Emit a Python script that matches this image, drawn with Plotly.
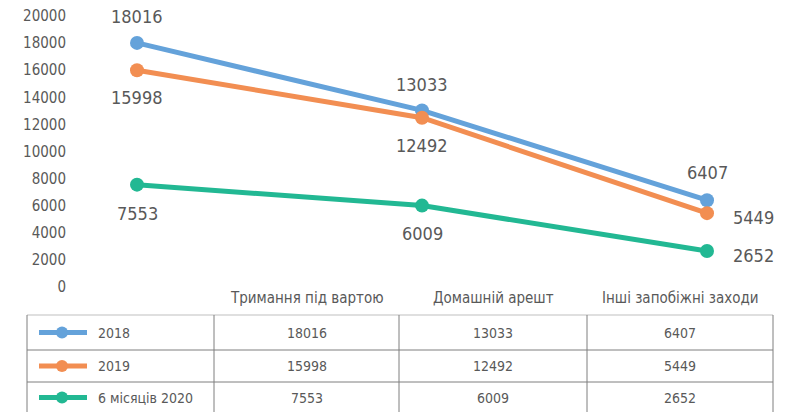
import plotly.graph_objects as go

categories = ["Тримання під вартою", "Домашній арешт", "Інші запобіжні заходи"]
series_names = ["2018", "2019", "6 місяців 2020"]
values_2018 = [18016, 13033, 6407]
values_2019 = [15998, 12492, 5449]
values_2020 = [7553, 6009, 2652]
y_ticks = [0, 2000, 4000, 6000, 8000, 10000, 12000, 14000, 16000, 18000, 20000]

series_values = [values_2018, values_2019, values_2020]
colors = ["#64a2da", "#f28e52", "#22b893"]
# label placement per point: (anchor, dx, dy) in pixels
label_place = [
    [("c", 0, 26), ("c", 0, 26), ("c", 0, 28)],
    [("c", 0, -27), ("c", 0, -28), ("l", 24, -4)],
    [("c", 0, -29), ("c", 0, -28), ("l", 24, -4)],
]

W, H = 789, 412
FONT = "DejaVu Sans Condensed, DejaVu Sans, sans-serif"
TXT = "#595959"

def px(x):
    return x / W

def py(y):
    return 1 - y / H

fig = go.Figure()
xs = list(range(len(categories)))
for name, vals, col in zip(series_names, series_values, colors):
    fig.add_trace(go.Scatter(
        x=xs, y=vals, mode="lines+markers", name=name,
        line=dict(color=col, width=5),
        marker=dict(color=col, size=14),
        cliponaxis=False, showlegend=False, hoverinfo="x+y",
    ))

annotations = []
for vals, places in zip(series_values, label_place):
    for x, v, (anc, dx, dy) in zip(xs, vals, places):
        annotations.append(dict(
            x=x, y=v, xref="x", yref="y", text=str(v), showarrow=False,
            xanchor="center" if anc == "c" else "left", yanchor="middle",
            xshift=dx, yshift=dy,
            font=dict(family=FONT, size=18, color=TXT)))

# x axis mapping: category 0 -> 137px, 2 -> 707px
x0_px = 75
unit = 285
a = -(137 - x0_px) / unit
b = a + (W - x0_px) / unit

fig.update_layout(
    width=W, height=H,
    margin=dict(l=0, r=0, t=0, b=0, pad=0, autoexpand=False),
    paper_bgcolor="white", plot_bgcolor="white",
    showlegend=False,
    xaxis=dict(domain=[px(x0_px), 1], range=[a, b], showgrid=False, zeroline=False,
               showticklabels=False, showline=False, automargin=False),
    yaxis=dict(domain=[py(287), py(16)], range=[0, 20000], tickvals=y_ticks,
               tickformat="d", automargin=False,
               showgrid=False, zeroline=False, showline=False,
               tickfont=dict(family=FONT, size=15, color=TXT), ticklabelstandoff=8),
)

# Table
col_edges = [27, 214, 399, 587, 773]
row_edges = [315, 350, 382, 413]
shapes = []
shapes.append(dict(type="line", xref="paper", yref="paper", x0=px(27), x1=px(773),
                   y0=py(row_edges[0]), y1=py(row_edges[0]), line=dict(color="#bfbfbf", width=1)))
for r in row_edges[1:3]:
    shapes.append(dict(type="line", xref="paper", yref="paper", x0=px(27), x1=px(773),
                       y0=py(r), y1=py(r), line=dict(color="#7f7f7f", width=1)))
for c in col_edges:
    shapes.append(dict(type="line", xref="paper", yref="paper", x0=px(c), x1=px(c),
                       y0=py(315), y1=py(413), line=dict(color="#7f7f7f", width=1)))

for i, cat in enumerate(categories):
    cx = (col_edges[i + 1] + col_edges[i + 2]) / 2
    annotations.append(dict(x=px(cx), y=py(298), xref="paper", yref="paper", text=cat,
                            showarrow=False, xanchor="center", yanchor="middle",
                            font=dict(family=FONT, size=15, color=TXT)))
for r, (name, vals, col) in enumerate(zip(series_names, series_values, colors)):
    cy = (row_edges[r] + row_edges[r + 1]) / 2
    shapes.append(dict(type="line", xref="paper", yref="paper", x0=px(39), x1=px(87),
                       y0=py(cy), y1=py(cy), line=dict(color=col, width=5)))
    shapes.append(dict(type="circle", xref="paper", yref="paper", x0=px(56), x1=px(68),
                       y0=py(cy + 6), y1=py(cy - 6), fillcolor=col, line=dict(color=col, width=0)))
    annotations.append(dict(x=px(96), y=py(cy), xref="paper", yref="paper", text=name,
                            showarrow=False, xanchor="left", yanchor="middle",
                            font=dict(family=FONT, size=14, color=TXT)))
    for i, v in enumerate(vals):
        cx = (col_edges[i + 1] + col_edges[i + 2]) / 2
        annotations.append(dict(x=px(cx), y=py(cy), xref="paper", yref="paper", text=str(v),
                                showarrow=False, xanchor="center", yanchor="middle",
                                font=dict(family=FONT, size=14, color=TXT)))

fig.update_layout(shapes=shapes, annotations=annotations)
fig.write_html("out.html", config={"displayModeBar": False},
               post_script="document.body.style.margin='0';document.body.style.overflow='hidden';")
